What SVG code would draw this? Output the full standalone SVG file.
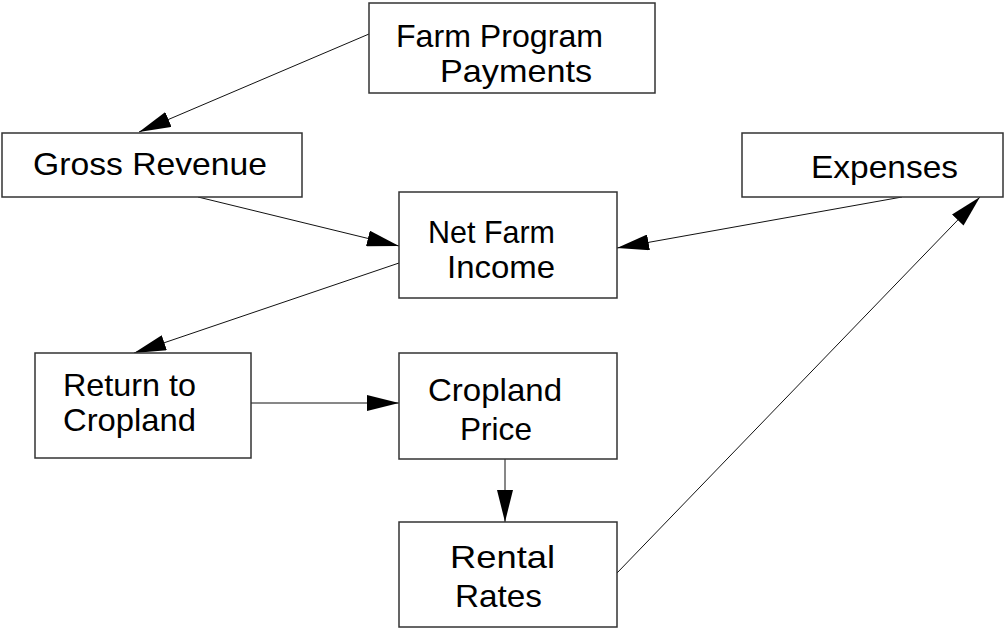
<svg xmlns="http://www.w3.org/2000/svg" width="1006" height="631" viewBox="0 0 1006 631">
<style>
.box{fill:#fff;stroke:#333;stroke-width:1.5}
.lbl{font-family:"Liberation Sans",Arial,sans-serif;font-size:32px;fill:#000}
.edge{stroke:#111;stroke-width:1;fill:none;marker-end:url(#ah)}
</style>
<defs>
<marker id="ah" markerUnits="userSpaceOnUse" markerWidth="32" markerHeight="16" refX="32" refY="8" orient="auto" viewBox="0 0 32 16">
<path d="M0,0 L32,8 L0,16 Z" fill="#000"/>
</marker>
</defs>
<rect width="1006" height="631" fill="#fff"/>
<g id="connectors">
<line class="edge" x1="369" y1="34" x2="139" y2="132"/>
<line class="edge" x1="198" y1="197" x2="399" y2="246"/>
<line class="edge" x1="902" y1="197" x2="617" y2="248"/>
<line class="edge" x1="399" y1="263" x2="134" y2="353"/>
<line class="edge" x1="251" y1="403" x2="399" y2="403"/>
<line class="edge" x1="505" y1="459" x2="505" y2="522"/>
<line class="edge" x1="617" y1="573" x2="980" y2="197"/>
</g>
<g id="farm-program-payments">
<rect class="box" x="369" y="3" width="286" height="90"/>
<text class="lbl" x="396" y="47" textLength="207" lengthAdjust="spacingAndGlyphs">Farm Program</text>
<text class="lbl" x="440" y="82" textLength="152" lengthAdjust="spacingAndGlyphs">Payments</text>
</g>
<g id="gross-revenue">
<rect class="box" x="2" y="133" width="300" height="64"/>
<text class="lbl" x="33" y="175" textLength="234" lengthAdjust="spacingAndGlyphs">Gross Revenue</text>
</g>
<g id="expenses">
<rect class="box" x="742" y="133" width="261" height="64"/>
<text class="lbl" x="811" y="178" textLength="147" lengthAdjust="spacingAndGlyphs">Expenses</text>
</g>
<g id="net-farm-income">
<rect class="box" x="399" y="192" width="218" height="106"/>
<text class="lbl" x="428" y="243" textLength="127" lengthAdjust="spacingAndGlyphs">Net Farm</text>
<text class="lbl" x="447" y="278" textLength="108" lengthAdjust="spacingAndGlyphs">Income</text>
</g>
<g id="return-to-cropland">
<rect class="box" x="35" y="353" width="216" height="105"/>
<text class="lbl" x="63" y="396" textLength="133" lengthAdjust="spacingAndGlyphs">Return to</text>
<text class="lbl" x="63" y="431" textLength="133" lengthAdjust="spacingAndGlyphs">Cropland</text>
</g>
<g id="cropland-price">
<rect class="box" x="399" y="353" width="218" height="106"/>
<text class="lbl" x="428" y="401" textLength="134" lengthAdjust="spacingAndGlyphs">Cropland</text>
<text class="lbl" x="460" y="440" textLength="72" lengthAdjust="spacingAndGlyphs">Price</text>
</g>
<g id="rental-rates">
<rect class="box" x="399" y="522" width="218" height="105"/>
<text class="lbl" x="450" y="568" textLength="105" lengthAdjust="spacingAndGlyphs">Rental</text>
<text class="lbl" x="455" y="607" textLength="87" lengthAdjust="spacingAndGlyphs">Rates</text>
</g>
</svg>
